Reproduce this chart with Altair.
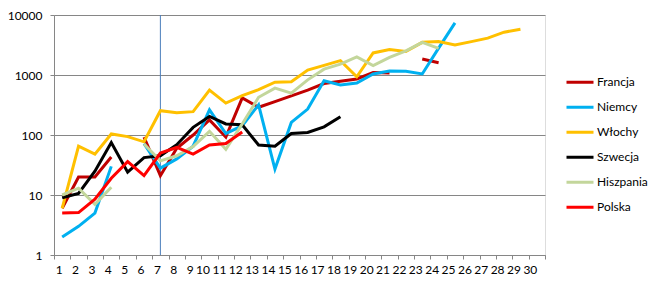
import altair as alt
import pandas as pd

days = list(range(1, 31))
series = ["Francja", "Niemcy", "Włochy", "Szwecja", "Hiszpania", "Polska"]
colors = ["#C00000", "#00B0F0", "#FFC000", "#000000", "#C3D69B", "#FF0000"]

francja = [6, 20, 20, 43, None, 92, 21, 60, 100, 178, 92, 414, 290, 360, 450, 560,
           720, 790, 860, 1100, 1080, None, 1850, 1600]
niemcy = [2, 3, 5, 30, None, 72, 28, 40, 65, 262, 106, 143, 318, 27, 162, 270, 800,
          680, 735, 1040, 1170, 1150, 1040, 2800, 7400]
wlochy = [6, 65, 48, 104, 94, 77, 254, 236, 245, 562, 340, 452, 569, 760, 770, 1210,
          1450, 1740, 935, 2330, 2650, 2460, 3500, 3600, 3160, 3600, 4120, 5170, 5800]
szwecja = [9, 10.6, 25, 75, 24, 42, 45, 69, 134, 204, 153, 148, 68, 65, 106, 110, 137, 202]
hiszpania = [10, 13, 7, 13.5, None, 71, 37, 45, 64, 115, 58, 153, 425, 605, 500, 830,
             1250, 1520, 2000, 1430, 1960, 2530, 3500, 2770]
polska = [5, 5.1, 8.5, 19, 36, 21, 50, 62, 48, 68, 72, 112]
marker_day = [7]
y_ticks = [1, 10, 100, 1000, 10000]

rows = []
for name, vals in zip(series, [francja, niemcy, wlochy, szwecja, hiszpania, polska]):
    seg = 0
    for d, v in zip(days, vals):
        if v is None:
            seg += 1
            continue
        rows.append({"day": d, "value": v, "country": name, "seg": f"{name}-{seg}"})
df = pd.DataFrame(rows)

FONT = "Lato"
GRID = "#868686"

x_enc = alt.X(
    "day:O",
    scale=alt.Scale(type="band", domain=days, paddingInner=0, paddingOuter=0),
    axis=alt.Axis(title=None, labelAngle=0, tickBand="extent", tickSize=4,
                  domainColor=GRID, tickColor=GRID, grid=False,
                  labelFont=FONT, labelFontSize=12, labelColor="#000000",
                  labelPadding=10),
)

lines = alt.Chart(df).mark_line(strokeWidth=3).encode(
    x=x_enc,
    y=alt.Y("value:Q",
            scale=alt.Scale(type="log", domain=[1, 10000]),
            axis=alt.Axis(title=None, values=y_ticks, format="d", tickSize=4,
                          grid=True, gridColor=GRID, gridWidth=1,
                          domainColor=GRID, tickColor=GRID,
                          labelFont=FONT, labelFontSize=12, labelColor="#000000",
                          labelPadding=8)),
    color=alt.Color("country:N",
                    scale=alt.Scale(domain=series, range=colors),
                    sort=series,
                    legend=alt.Legend(orient="none", legendX=511, legendY=55,
                                      title=None, symbolType="stroke",
                                      symbolSize=729, symbolStrokeWidth=3,
                                      clipHeight=24.5, rowPadding=0,
                                      labelFont=FONT, labelFontSize=12,
                                      labelColor="#000000", labelOffset=2)),
    detail="seg:N",
)

rule = alt.Chart(pd.DataFrame({"day": marker_day})).mark_rule(
    color="#4A7EBB", strokeWidth=1
).encode(x=alt.X("day:O"))

chart = alt.layer(rule, lines).properties(
    width=491, height=240,
    autosize=alt.AutoSizeParams(type="none"),
    padding={"left": 54, "top": 15, "right": 116, "bottom": 34},
).configure_view(strokeWidth=0).configure(background="white")

chart.save("out.html", embed_options={"renderer": "svg", "actions": False})
